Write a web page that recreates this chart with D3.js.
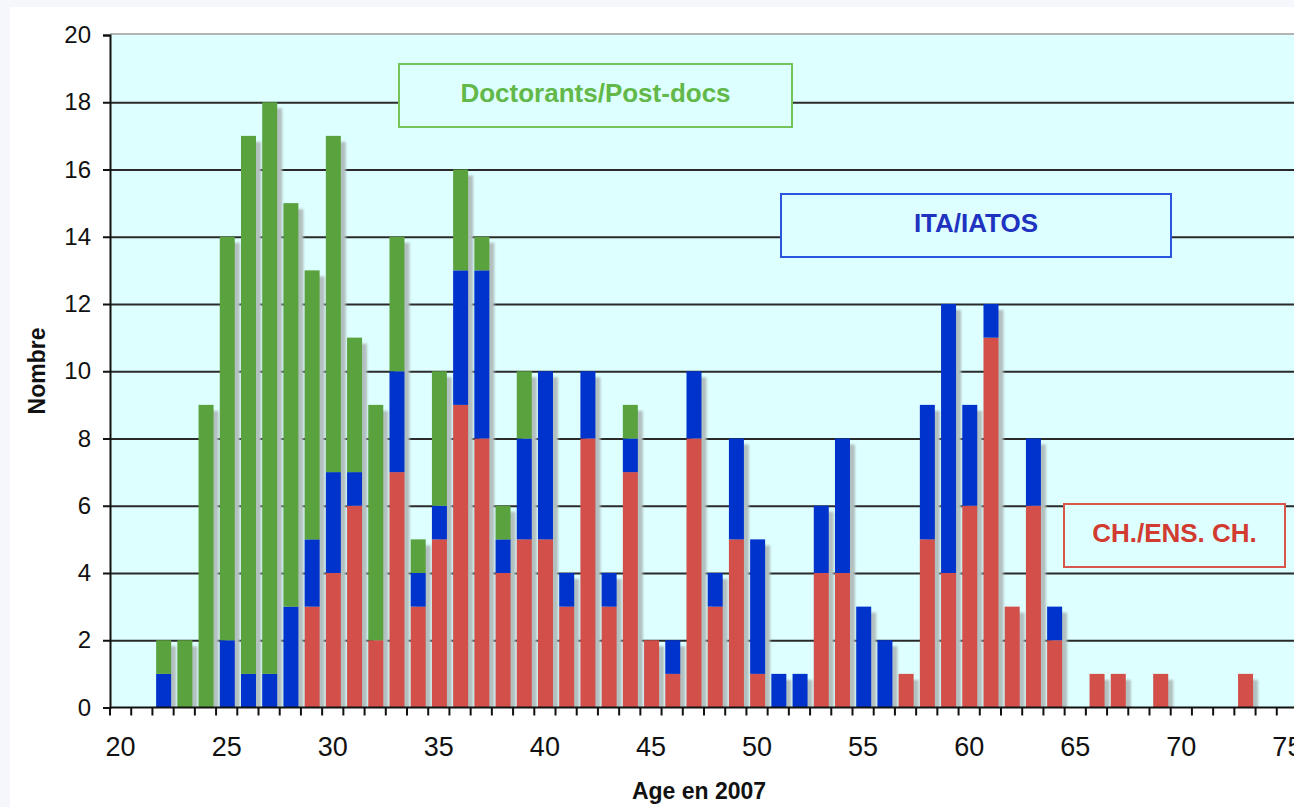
<!DOCTYPE html>
<html>
<head>
<meta charset="utf-8">
<script src="https://cdn.jsdelivr.net/npm/d3@7"></script>
<style>
  html, body { margin: 0; padding: 0; background: #f5f7fc; }
  svg { display: block; }
  text { font-family: "Liberation Sans", Arial, Helvetica, sans-serif; }
</style>
</head>
<body>
<svg id="chart" width="1294" height="807"></svg>
<script>
// ---- Data ----
const ages = [20,21,22,23,24,25,26,27,28,29,30,31,32,33,34,35,36,37,38,39,40,41,42,43,44,45,46,47,
              48,49,50,51,52,53,54,55,56,57,58,59,60,61,62,63,64,65,66,67,68,69,70,71,72,73,74,75];
const chEns = [0,0,0,0,0,0,0,0,0,3,4,6,2,7,3,5,9,8,4,5,5,3,8,3,7,2,1,8,
               3,5,1,0,0,4,4,0,0,1,5,4,6,11,3,6,2,0,1,1,0,1,0,0,0,1,0,0];
const itaIatos = [0,0,1,0,0,2,1,1,3,2,3,1,0,3,1,1,4,5,1,3,5,1,2,1,1,0,1,2,
                  1,3,4,1,1,2,4,3,2,0,4,8,3,1,0,2,1,0,0,0,0,0,0,0,0,0,0,0];
const doctorants = [0,0,1,2,9,12,16,17,12,8,10,4,7,4,1,4,3,1,1,2,0,0,0,0,1,0,0,0,
                    0,0,0,0,0,0,0,0,0,0,0,0,0,0,0,0,0,0,0,0,0,0,0,0,0,0,0,0];
const seriesNames = ["CH./ENS. CH.", "ITA/IATOS", "Doctorants/Post-docs"];
const seriesColors = ["#d24f4a", "#0033cc", "#5aa23e"];
const xTickLabels = [20,25,30,35,40,45,50,55,60,65,70,75];
const yTicks = [0,2,4,6,8,10,12,14,16,18,20];

// ---- Layout ----
const W = 1294, H = 807;
const plot = { left: 110, top: 34, right: 1298, bottom: 707.5 };

const svg = d3.select("#chart");
svg.append("rect").attr("x", 10).attr("y", 7).attr("width", W - 10).attr("height", H - 7).attr("fill", "#ffffff");

const x = d3.scaleBand().domain(ages).range([plot.left, plot.right]).padding(0);
const y = d3.scaleLinear().domain([0, 20]).range([plot.bottom, plot.top + 1]);

// plot background
svg.append("rect")
  .attr("x", plot.left).attr("y", plot.top)
  .attr("width", plot.right - plot.left).attr("height", plot.bottom - plot.top)
  .attr("fill", "#ddffff");
svg.append("line")
  .attr("x1", plot.left).attr("x2", plot.right)
  .attr("y1", plot.top).attr("y2", plot.top)
  .attr("stroke", "#b4b4b4").attr("stroke-width", 2);

// gridlines
const grid = svg.append("g")
  .attr("transform", `translate(${plot.left},0)`)
  .call(d3.axisLeft(y).tickValues(yTicks.filter(d => d > 0 && d < 20)).tickSize(-(plot.right - plot.left)).tickFormat(""));
grid.select(".domain").remove();
grid.selectAll("line").attr("stroke", "#2a2a2a").attr("stroke-width", 2);

// data table & stack
const table = ages.map((a, i) => ({ age: a, ch: chEns[i], ita: itaIatos[i], doc: doctorants[i] }));
const keys = ["ch", "ita", "doc"];
const stacked = d3.stack().keys(keys)(table);

const barOffset = 3.7, barW = 15;

// shadows
const defs = svg.append("defs");
defs.append("filter").attr("id", "blur").attr("x", "-20%").attr("y", "-5%").attr("width", "140%").attr("height", "110%")
  .append("feGaussianBlur").attr("stdDeviation", 0.8);
defs.append("clipPath").attr("id", "plotclip").append("rect")
  .attr("x", plot.left).attr("y", plot.top).attr("width", plot.right - plot.left).attr("height", plot.bottom - plot.top);

const totals = table.map(d => ({ age: d.age, total: d.ch + d.ita + d.doc })).filter(d => d.total > 0);
svg.append("g").attr("clip-path", "url(#plotclip)")
  .selectAll("rect").data(totals).join("rect")
  .attr("x", d => x(d.age) + barOffset + 5)
  .attr("y", d => y(d.total) + 6)
  .attr("width", barW)
  .attr("height", d => plot.bottom - y(d.total))
  .attr("fill", "#b3c0c0")
  .attr("filter", "url(#blur)");

// bars
svg.append("g").selectAll("g").data(stacked).join("g")
  .attr("fill", (s, i) => seriesColors[i])
  .selectAll("rect").data(s => s.filter(d => d[1] - d[0] > 0)).join("rect")
  .attr("x", d => x(d.data.age) + barOffset)
  .attr("y", d => y(d[1]))
  .attr("width", barW)
  .attr("height", d => y(d[0]) - y(d[1]));

// y axis
const yAxis = svg.append("g")
  .attr("transform", `translate(${plot.left},0)`)
  .call(d3.axisLeft(y).tickValues(yTicks).tickSize(7).tickPadding(12));
yAxis.select(".domain").attr("stroke", "#111").attr("stroke-width", 2);
yAxis.selectAll(".tick line").attr("stroke", "#111").attr("stroke-width", 2);
yAxis.selectAll(".tick text").attr("font-size", 24).attr("fill", "#111")
  .attr("font-family", "Liberation Sans, Arial, sans-serif");

// x axis (domain + boundary ticks)
const xAxis = svg.append("g").attr("transform", `translate(0,${plot.bottom})`);
xAxis.append("line").attr("x1", plot.left).attr("x2", plot.right).attr("y1", 0).attr("y2", 0)
  .attr("stroke", "#111").attr("stroke-width", 2);
xAxis.selectAll("line.tk").data(ages).join("line").attr("class", "tk")
  .attr("x1", d => x(d)).attr("x2", d => x(d))
  .attr("y1", 0).attr("y2", 8)
  .attr("stroke", "#111").attr("stroke-width", 2);
xAxis.selectAll("text").data(xTickLabels).join("text")
  .attr("x", d => x(d) + x.bandwidth() / 2)
  .attr("y", 48)
  .attr("text-anchor", "middle")
  .attr("font-size", 27)
  .attr("fill", "#111")
  .text(d => d);

// axis titles
svg.append("text")
  .attr("transform", "translate(45,371) rotate(-90)")
  .attr("text-anchor", "middle")
  .attr("font-size", 23).attr("font-weight", "bold").attr("fill", "#111")
  .text("Nombre");
svg.append("text")
  .attr("x", 699).attr("y", 799)
  .attr("text-anchor", "middle")
  .attr("font-size", 23).attr("font-weight", "bold").attr("fill", "#111")
  .text("Age en 2007");

// labels (legend boxes)
const labelBoxes = [
  { name: seriesNames[2], x0: 399, y0: 64, x1: 792, y1: 127, stroke: "#74c45a", color: "#62b848" },
  { name: seriesNames[1], x0: 781, y0: 194, x1: 1171, y1: 257, stroke: "#2a55dd", color: "#1f33c0" },
  { name: seriesNames[0], x0: 1064, y0: 504, x1: 1285, y1: 567, stroke: "#d9564c", color: "#d23b30" }
];
const lb = svg.append("g").selectAll("g").data(labelBoxes).join("g");
lb.append("rect")
  .attr("x", d => d.x0).attr("y", d => d.y0)
  .attr("width", d => d.x1 - d.x0).attr("height", d => d.y1 - d.y0)
  .attr("fill", "#ddffff").attr("stroke", d => d.stroke).attr("stroke-width", 2);
lb.append("text")
  .attr("x", d => (d.x0 + d.x1) / 2)
  .attr("y", d => (d.y0 + d.y1) / 2 + 6)
  .attr("text-anchor", "middle")
  .attr("font-size", 26).attr("font-weight", "bold")
  .attr("fill", d => d.color)
  .text(d => d.name);
</script>
</body>
</html>
